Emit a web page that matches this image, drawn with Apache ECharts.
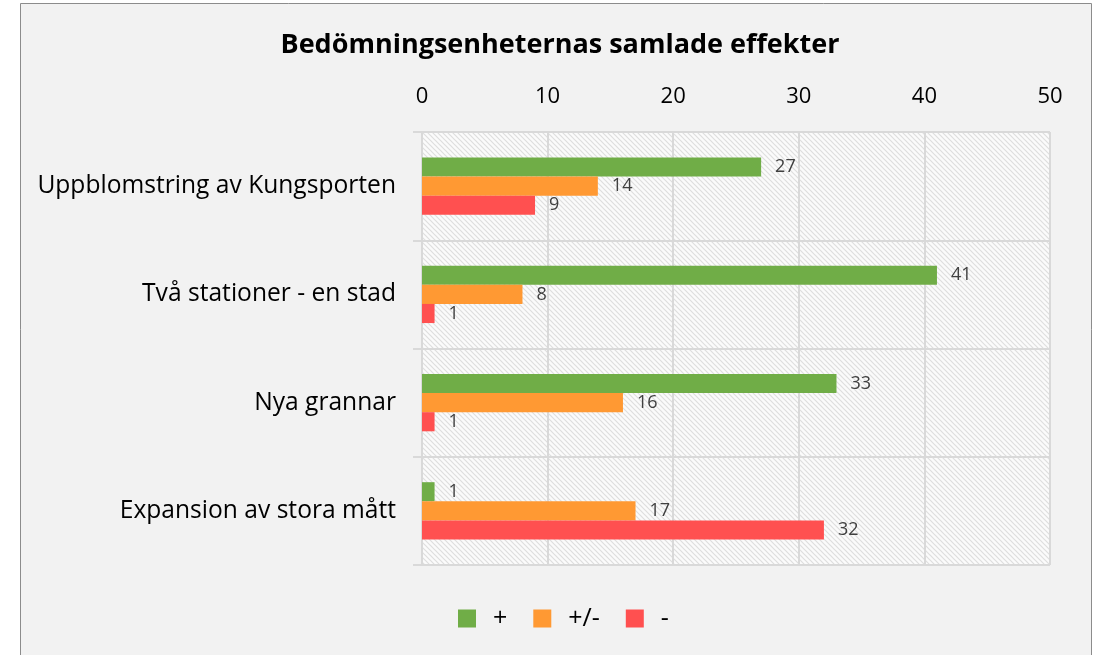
<!DOCTYPE html>
<html>
<head>
<meta charset="utf-8">
<script src="https://cdn.jsdelivr.net/npm/echarts@6/dist/echarts.min.js"></script>
<style>
  html, body { margin: 0; padding: 0; background: #fff; }
  #chart { width: 1099px; height: 655px; }
</style>
</head>
<body>
<div id="chart"></div>
<script>
var categories = ['Uppblomstring av Kungsporten', 'Två stationer - en stad', 'Nya grannar', 'Expansion av stora mått'];
var seriesNames = ['+', '+/-', '-'];
var plusValues = [27, 41, 33, 1];
var neutralValues = [14, 8, 16, 17];
var minusValues = [9, 1, 1, 32];
var xTicks = [0, 10, 20, 30, 40, 50];

// diagonal hatch for the plot area
function makeHatch() {
    var c = document.createElement('canvas');
    c.width = 5; c.height = 5;
    var ctx = c.getContext('2d');
    ctx.fillStyle = '#fbfbfb';
    ctx.fillRect(0, 0, 5, 5);
    ctx.strokeStyle = '#dedede';
    ctx.lineWidth = 1.2;
    ctx.beginPath();
    ctx.moveTo(0, 0); ctx.lineTo(5, 5);
    ctx.moveTo(-2.5, 2.5); ctx.lineTo(2.5, 7.5);
    ctx.moveTo(2.5, -2.5); ctx.lineTo(7.5, 2.5);
    ctx.stroke();
    return c;
}

var myChart = echarts.init(document.getElementById('chart'));
var font = '"Open Sans", "Noto Sans", sans-serif';
var colors = ['#70ad47', '#ff9933', '#ff5050'];
var values = [plusValues, neutralValues, minusValues];

var seriesData = [];
for (var i = 0; i < seriesNames.length; i++) {
    seriesData.push({
        name: seriesNames[i],
        type: 'bar',
        data: values[i],
        barGap: '0%',
        barCategoryGap: '47%',
        itemStyle: { color: colors[i] },
        label: {
            show: true,
            position: 'right',
            distance: 14,
            color: '#404040',
            fontSize: 18,
            fontFamily: font
        }
    });
}

var option = {
    backgroundColor: '#ffffff',
    graphic: [{
        type: 'rect',
        z: -10,
        shape: { x: 20.5, y: 3.5, width: 1071, height: 670 },
        style: { fill: '#f2f2f2', stroke: '#8c8c8c', lineWidth: 1 }
    }],
    color: colors,
    title: {
        text: 'Bedömningsenheternas samlade effekter',
        left: 555,
        textAlign: 'center',
        top: 27,
        textStyle: { fontFamily: font, fontSize: 27, fontWeight: 'bold', color: '#000' }
    },
    legend: {
        data: seriesNames,
        top: 606,
        left: 458,
        padding: 0,
        icon: 'rect',
        itemWidth: 18,
        itemHeight: 18,
        itemGap: 26,
        textStyle: { fontFamily: font, fontSize: 25, color: '#000', padding: [0, 0, 0, 12] }
    },
    grid: {
        left: 422,
        right: 49,
        top: 132,
        bottom: 90,
        show: true,
        borderWidth: 0,
        backgroundColor: { image: makeHatch(), repeat: 'repeat' }
    },
    xAxis: {
        type: 'value',
        position: 'top',
        min: 0,
        max: 50,
        interval: 10,
        axisLine: { show: false },
        axisTick: { show: false },
        axisLabel: {
            fontFamily: font, fontSize: 22, color: '#000', margin: 24,
            formatter: function (v) { return xTicks.indexOf(v) >= 0 ? String(v) : ''; }
        },
        splitLine: { show: true, lineStyle: { color: '#d9d9d9', width: 2 } }
    },
    yAxis: {
        type: 'category',
        inverse: true,
        data: categories,
        axisLine: { show: true, lineStyle: { color: '#d9d9d9', width: 2 } },
        axisTick: { show: true, length: 9, lineStyle: { color: '#d9d9d9', width: 2 } },
        axisLabel: { fontFamily: font, fontSize: 24.6, color: '#000', margin: 26 },
        splitLine: { show: true, lineStyle: { color: '#d9d9d9', width: 2 } }
    },
    series: seriesData
};
myChart.setOption(option);
</script>
</body>
</html>
